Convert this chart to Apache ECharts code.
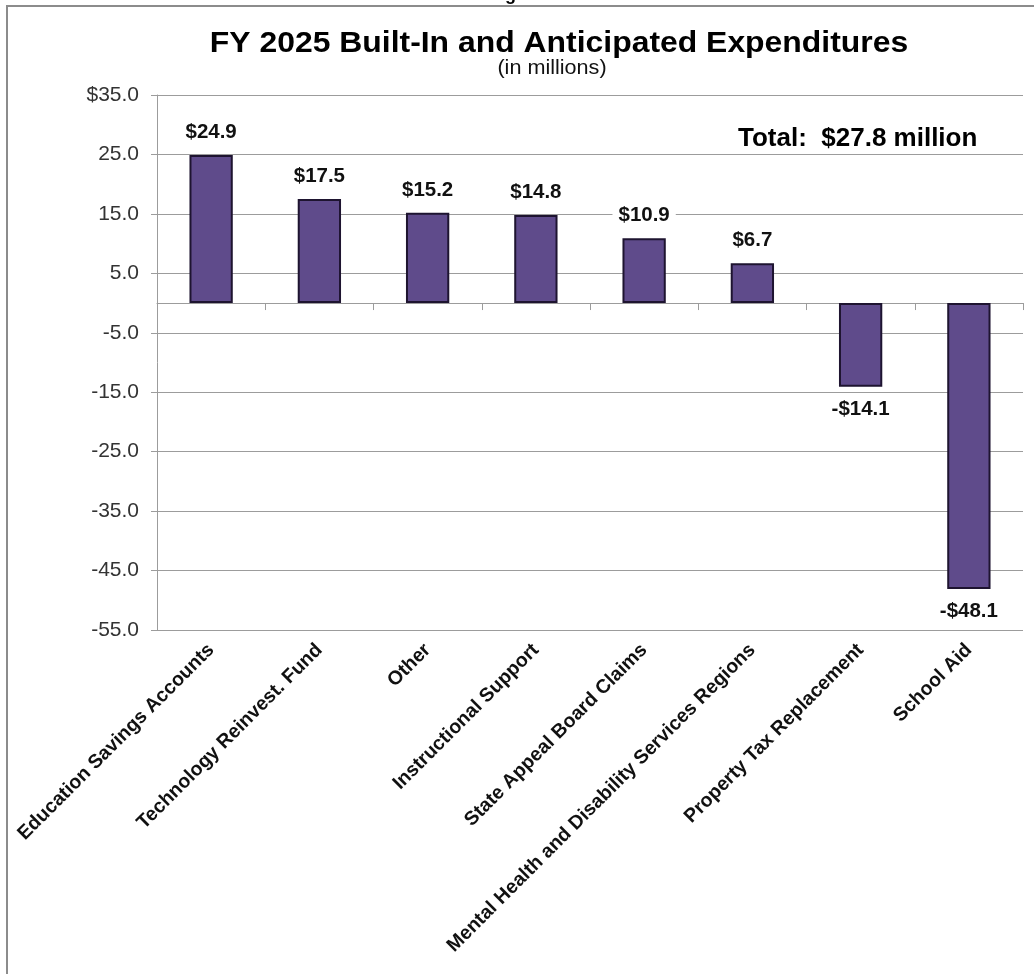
<!DOCTYPE html>
<html>
<head>
<meta charset="utf-8">
<script src="https://cdn.jsdelivr.net/npm/echarts@6/dist/echarts.min.js"></script>
<style>
  html, body { margin: 0; padding: 0; background: #ffffff; }
  #chart { width: 1034px; height: 974px; }
</style>
</head>
<body>
<div id="chart"></div>
<script>
// ---- data ----
const categories = [
  'Education Savings Accounts',
  'Technology Reinvest. Fund',
  'Other',
  'Instructional Support',
  'State Appeal Board Claims',
  'Mental Health and Disability Services Regions',
  'Property Tax Replacement',
  'School Aid'
];
const values = [24.9, 17.5, 15.2, 14.8, 10.9, 6.7, -14.1, -48.1];
const yMin = -55;
const yMax = 35;
const yStep = 10;
const titleText = 'FY 2025 Built-In and Anticipated Expenditures';
const subtitleText = '(in millions)';
const totalText = 'Total:  $27.8 million';
const figureText = 'Figure 3';

// ---- chart ----
const FONT = '"Liberation Sans", Arial, sans-serif';
const GRID_COLOR = '#9c9c9c';
const chart = echarts.init(document.getElementById('chart'), null, { renderer: 'canvas' });

function money(v) {
  return (v < 0 ? '-$' : '$') + Math.abs(v).toFixed(1);
}

const barData = values.map(v => ({
  value: v,
  label: { position: v < 0 ? 'bottom' : 'top' }
}));

const option = {
  backgroundColor: '#ffffff',
  animation: false,
  textStyle: { fontFamily: FONT },
  graphic: [
    {
      type: 'rect', z: -10, silent: true,
      shape: { x: 7, y: 6, width: 1200, height: 1200 },
      style: { fill: 'none', stroke: '#8c8c8c', lineWidth: 2 }
    },
    {
      type: 'text', x: 524, y: -5, silent: true,
      style: { text: figureText, font: 'bold 18px ' + FONT, fill: '#000', align: 'center', verticalAlign: 'middle' }
    },
    {
      type: 'text', x: 559, y: 44, scaleX: 1.1, silent: true,
      style: { text: titleText, font: 'bold 29px ' + FONT, fill: '#000', align: 'center', verticalAlign: 'middle' }
    },
    {
      type: 'text', x: 552, y: 68, scaleX: 1.08, silent: true,
      style: { text: subtitleText, font: '20px ' + FONT, fill: '#111', align: 'center', verticalAlign: 'middle' }
    },
    {
      type: 'text', x: 738, y: 139, silent: true,
      style: { text: totalText, font: 'bold 26px ' + FONT, fill: '#000', align: 'left', verticalAlign: 'middle' }
    }
  ],
  grid: { left: 157, right: 11, top: 95, bottom: 344, containLabel: false },
  xAxis: [
    {
      type: 'category',
      data: categories,
      position: 'bottom',
      axisLine: { show: false, onZero: false },
      axisTick: { show: false },
      splitLine: { show: false },
      axisLabel: {
        interval: 0, rotate: 45, margin: 17,
        fontFamily: FONT, fontWeight: 'bold', fontSize: 19.5, color: '#111'
      }
    },
    {
      type: 'category',
      data: categories,
      position: 'top',
      axisLine: { show: true, onZero: true, lineStyle: { color: GRID_COLOR, width: 1 } },
      axisTick: { show: true, interval: 0, inside: true, length: 7, lineStyle: { color: GRID_COLOR } },
      axisLabel: { show: false },
      splitLine: { show: false }
    }
  ],
  yAxis: {
    type: 'value',
    min: yMin,
    max: yMax,
    interval: yStep,
    axisLine: { show: true, lineStyle: { color: GRID_COLOR, width: 1 } },
    axisTick: { show: true, length: 6, lineStyle: { color: GRID_COLOR } },
    splitLine: { show: true, lineStyle: { color: GRID_COLOR, width: 1 } },
    axisLabel: {
      margin: 18,
      fontFamily: FONT, fontSize: 21, color: '#333',
      formatter: v => (v === yMax ? '$' : '') + v.toFixed(1)
    }
  },
  series: [
    {
      type: 'bar',
      xAxisIndex: 0,
      data: barData,
      barWidth: '40%',
      itemStyle: { color: '#5f4b8b', borderColor: '#1e1430', borderWidth: 2 },
      label: {
        show: true,
        distance: 11,
        formatter: p => money(p.value),
        fontFamily: FONT, fontWeight: 'bold', fontSize: 20.5, color: '#111',
        backgroundColor: '#ffffff',
        padding: [1, 6]
      }
    }
  ]
};

chart.setOption(option);
</script>
</body>
</html>
